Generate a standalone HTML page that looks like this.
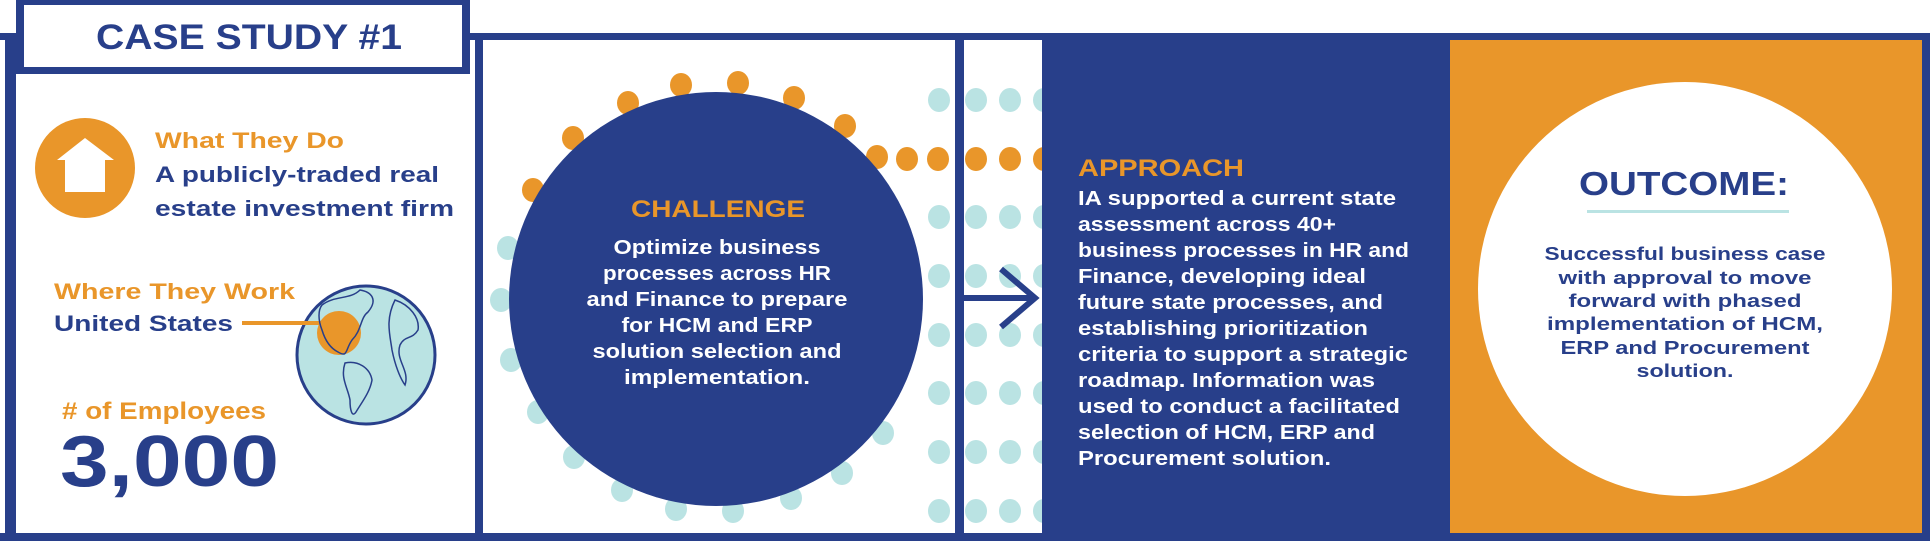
<!DOCTYPE html>
<html><head><meta charset="utf-8"><style>
html,body{margin:0;padding:0;background:#fff;}
svg{display:block;}
text{font-family:"Liberation Sans",sans-serif;font-weight:bold;}
</style></head><body>
<svg width="1930" height="541" viewBox="0 0 1930 541" xmlns="http://www.w3.org/2000/svg">
<defs>
<clipPath id="p2"><rect x="483" y="40" width="472" height="493"/></clipPath>
<clipPath id="p3"><rect x="964" y="40" width="78" height="493"/></clipPath>
</defs>
<rect width="1930" height="541" fill="#fff"/>
<!-- frame -->
<rect x="470" y="33" width="1460" height="7" fill="#283f8a"/>
<rect x="5" y="33" width="11" height="508" fill="#283f8a"/>
<rect x="0" y="533" width="1930" height="8" fill="#283f8a"/>
<rect x="1922" y="33" width="8" height="508" fill="#283f8a"/>
<rect x="0" y="33" width="16" height="7" fill="#283f8a"/>
<rect x="475" y="33" width="8" height="508" fill="#283f8a"/>
<rect x="955" y="33" width="9" height="508" fill="#283f8a"/>

<!-- dots panel 2 -->
<g clip-path="url(#p2)" fill="#bae3e3">
<g>
<ellipse cx="939" cy="100" rx="11" ry="12"/><ellipse cx="939" cy="217" rx="11" ry="12"/><ellipse cx="939" cy="276" rx="11" ry="12"/><ellipse cx="939" cy="335" rx="11" ry="12"/><ellipse cx="939" cy="393" rx="11" ry="12"/><ellipse cx="939" cy="452" rx="11" ry="12"/><ellipse cx="939" cy="511" rx="11" ry="12"/>
<ellipse cx="508" cy="248" rx="11" ry="12"/><ellipse cx="501" cy="300" rx="11" ry="12"/><ellipse cx="511" cy="360" rx="11" ry="12"/><ellipse cx="538" cy="412" rx="11" ry="12"/><ellipse cx="574" cy="457" rx="11" ry="12"/><ellipse cx="622" cy="490" rx="11" ry="12"/><ellipse cx="676" cy="509" rx="11" ry="12"/><ellipse cx="733" cy="511" rx="11" ry="12"/><ellipse cx="791" cy="498" rx="11" ry="12"/><ellipse cx="842" cy="473" rx="11" ry="12"/><ellipse cx="883" cy="433" rx="11" ry="12"/>
</g>
<g fill="#e9962a">
<ellipse cx="681" cy="85" rx="11" ry="12"/><ellipse cx="738" cy="83" rx="11" ry="12"/><ellipse cx="794" cy="98" rx="11" ry="12"/><ellipse cx="845" cy="126" rx="11" ry="12"/><ellipse cx="877" cy="157" rx="11" ry="12"/><ellipse cx="628" cy="103" rx="11" ry="12"/><ellipse cx="573" cy="138" rx="11" ry="12"/><ellipse cx="533" cy="190" rx="11" ry="12"/><ellipse cx="907" cy="159" rx="11" ry="12"/><ellipse cx="938" cy="159" rx="11" ry="12"/>
</g>
</g>
<circle cx="716" cy="299" r="207" fill="#283f8a"/>

<!-- dots column 3 -->
<g clip-path="url(#p3)" fill="#bae3e3">
<g id="col">
<ellipse cx="0" cy="100" rx="11" ry="12"/><ellipse cx="0" cy="217" rx="11" ry="12"/><ellipse cx="0" cy="276" rx="11" ry="12"/><ellipse cx="0" cy="335" rx="11" ry="12"/><ellipse cx="0" cy="393" rx="11" ry="12"/><ellipse cx="0" cy="452" rx="11" ry="12"/><ellipse cx="0" cy="511" rx="11" ry="12"/>
</g>
<use href="#col" x="976"/><use href="#col" x="1010"/><use href="#col" x="1044"/>
<g fill="#e9962a"><ellipse cx="976" cy="159" rx="11" ry="12"/><ellipse cx="1010" cy="159" rx="11" ry="12"/><ellipse cx="1044" cy="159" rx="11" ry="12"/></g>
</g>
<!-- arrow -->
<rect x="964" y="295" width="72" height="6" fill="#283f8a"/>
<polyline points="1001,269 1035,298 1001,327" fill="none" stroke="#283f8a" stroke-width="6"/>

<!-- navy panel / orange panel -->
<rect x="1042" y="40" width="408" height="493" fill="#283f8a"/>
<rect x="1450" y="40" width="472" height="493" fill="#e9962a"/>
<circle cx="1685" cy="289" r="207" fill="#fff"/>

<!-- case study box -->
<rect x="16" y="0" width="454" height="74" fill="#283f8a"/>
<rect x="24" y="5" width="438" height="62" fill="#fff"/>
<text x="249" y="49" font-size="35" fill="#283f8a" text-anchor="middle" textLength="306" lengthAdjust="spacingAndGlyphs">CASE STUDY #1</text>

<!-- left panel -->
<circle cx="85" cy="168" r="50" fill="#e9962a"/>
<polygon points="85,138 114,160 105,160 105,192 65,192 65,160 57,160" fill="#fff"/>
<text x="155" y="148" font-size="22" fill="#e9962a" textLength="189" lengthAdjust="spacingAndGlyphs">What They Do</text>
<text x="155" y="182" font-size="22" fill="#283f8a" textLength="284" lengthAdjust="spacingAndGlyphs">A publicly-traded real</text>
<text x="155" y="216" font-size="22" fill="#283f8a" textLength="299" lengthAdjust="spacingAndGlyphs">estate investment firm</text>
<text x="54" y="299" font-size="22" fill="#e9962a" textLength="241" lengthAdjust="spacingAndGlyphs">Where They Work</text>
<text x="54" y="331" font-size="22" fill="#283f8a" textLength="179" lengthAdjust="spacingAndGlyphs">United States</text>
<circle cx="366" cy="355" r="69" fill="#bae3e3" stroke="#283f8a" stroke-width="3"/>
<circle cx="339" cy="333" r="22" fill="#e9962a"/>
<rect x="242" y="321" width="80" height="4" fill="#e9962a"/>
<g fill="none" stroke="#283f8a" stroke-width="1.5">
<path d="M322,305 C335,295 350,300 360,290 C372,292 378,300 368,312 C360,318 362,330 352,340 C345,350 348,358 338,352 C330,348 325,340 322,330 C318,320 318,310 322,305 Z"/>
<path d="M345,363 C358,360 370,368 372,380 C370,392 362,402 356,412 C352,418 350,410 350,400 C348,388 340,378 345,363 Z"/>
<path d="M395,300 C410,305 420,318 418,330 C412,340 405,335 400,345 C395,360 410,370 405,385 C400,378 395,365 392,350 C390,335 385,320 395,300 Z"/>
</g>
<text x="62" y="419" font-size="24" fill="#e9962a" textLength="204" lengthAdjust="spacingAndGlyphs"># of Employees</text>
<text x="60" y="486" font-size="72" fill="#283f8a" textLength="219" lengthAdjust="spacingAndGlyphs">3,000</text>

<!-- challenge -->
<text x="718" y="217" font-size="24" fill="#e9962a" text-anchor="middle" textLength="174" lengthAdjust="spacingAndGlyphs">CHALLENGE</text>
<g font-size="20" fill="#fff" text-anchor="middle">
<text x="717" y="254" textLength="207" lengthAdjust="spacingAndGlyphs">Optimize business</text>
<text x="717" y="280" textLength="228" lengthAdjust="spacingAndGlyphs">processes across HR</text>
<text x="717" y="306" textLength="261" lengthAdjust="spacingAndGlyphs">and Finance to prepare</text>
<text x="717" y="332" textLength="191" lengthAdjust="spacingAndGlyphs">for HCM and ERP</text>
<text x="717" y="358" textLength="249" lengthAdjust="spacingAndGlyphs">solution selection and</text>
<text x="717" y="384" textLength="186" lengthAdjust="spacingAndGlyphs">implementation.</text>
</g>

<!-- approach -->
<text x="1078" y="176" font-size="24" fill="#e9962a" textLength="166" lengthAdjust="spacingAndGlyphs">APPROACH</text>
<g font-size="20" fill="#fff">
<text x="1078" y="205" textLength="318" lengthAdjust="spacingAndGlyphs">IA supported a current state</text>
<text x="1078" y="231" textLength="258" lengthAdjust="spacingAndGlyphs">assessment across 40+</text>
<text x="1078" y="257" textLength="331" lengthAdjust="spacingAndGlyphs">business processes in HR and</text>
<text x="1078" y="283" textLength="288" lengthAdjust="spacingAndGlyphs">Finance, developing ideal</text>
<text x="1078" y="309" textLength="305" lengthAdjust="spacingAndGlyphs">future state processes, and</text>
<text x="1078" y="335" textLength="290" lengthAdjust="spacingAndGlyphs">establishing prioritization</text>
<text x="1078" y="361" textLength="330" lengthAdjust="spacingAndGlyphs">criteria to support a strategic</text>
<text x="1078" y="387" textLength="297" lengthAdjust="spacingAndGlyphs">roadmap. Information was</text>
<text x="1078" y="413" textLength="322" lengthAdjust="spacingAndGlyphs">used to conduct a facilitated</text>
<text x="1078" y="439" textLength="297" lengthAdjust="spacingAndGlyphs">selection of HCM, ERP and</text>
<text x="1078" y="465" textLength="253" lengthAdjust="spacingAndGlyphs">Procurement solution.</text>
</g>

<!-- outcome -->
<text x="1684" y="195" font-size="33" fill="#283f8a" text-anchor="middle" textLength="210" lengthAdjust="spacingAndGlyphs">OUTCOME:</text>
<rect x="1587" y="210" width="202" height="3" fill="#bae3e3"/>
<g font-size="18" fill="#283f8a" text-anchor="middle">
<text x="1685" y="260" textLength="281" lengthAdjust="spacingAndGlyphs">Successful business case</text>
<text x="1685" y="284" textLength="253" lengthAdjust="spacingAndGlyphs">with approval to move</text>
<text x="1685" y="307" textLength="233" lengthAdjust="spacingAndGlyphs">forward with phased</text>
<text x="1685" y="330" textLength="276" lengthAdjust="spacingAndGlyphs">implementation of HCM,</text>
<text x="1685" y="354" textLength="249" lengthAdjust="spacingAndGlyphs">ERP and Procurement</text>
<text x="1685" y="377" textLength="97" lengthAdjust="spacingAndGlyphs">solution.</text>
</g>
</svg>
</body></html>
